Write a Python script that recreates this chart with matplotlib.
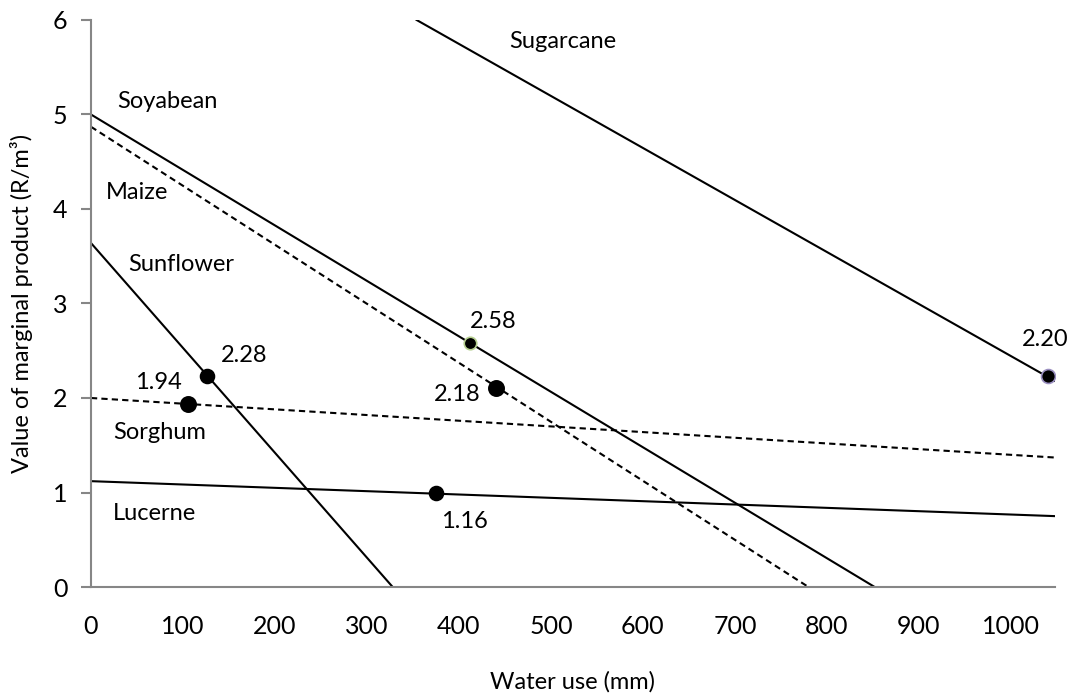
import matplotlib
matplotlib.use("Agg")
import matplotlib.pyplot as plt

plt.rcParams['font.family'] = ['Lato', 'DejaVu Sans']

# line end points (water use mm, value R/m3)
soy_x = [0, 852]
soy_y = [5.0, 0.0]
maize_x = [0, 780]
maize_y = [4.87, 0.0]
sunflower_x = [0, 328]
sunflower_y = [3.64, 0.0]
sugar_x = [354, 1048]
sugar_y = [6.0, 2.18]
sorghum_x = [0, 1048]
sorghum_y = [2.0, 1.37]
lucerne_x = [0, 1048]
lucerne_y = [1.12, 0.75]

# marked points and their labels
pt_x = [126, 106, 412, 440, 375, 1040]
pt_y = [2.23, 1.94, 2.58, 2.11, 1.0, 2.23]
pt_text = ["2.28", "1.94", "2.58", "2.18", "1.16", "2.20"]
pt_size = [10, 11, 9, 11, 10, 10]
pt_edge = ["black", "black", "#b5cf8f", "black", "black", "#9a8fc0"]
lab_x = [166, 73, 437, 398, 406, 1037]
lab_y = [2.45, 2.16, 2.81, 2.04, 0.69, 2.62]

crop_names = ["Sugarcane", "Soyabean", "Maize", "Sunflower", "Sorghum", "Lucerne"]
name_x = [513, 28, 16, 40, 24, 24]
name_y = [5.77, 5.14, 4.17, 3.41, 1.63, 0.78]

fig = plt.figure(figsize=(10.74, 6.96), dpi=100)
ax = fig.add_axes([0.0847, 0.1566, 0.8976, 0.8147])

lw = 1.5
ax.plot(soy_x, soy_y, color="black", lw=lw)
ax.plot(maize_x, maize_y, color="black", lw=lw, dashes=(3, 2))
ax.plot(sunflower_x, sunflower_y, color="black", lw=lw)
ax.plot(sugar_x, sugar_y, color="black", lw=lw)
ax.plot(sorghum_x, sorghum_y, color="black", lw=lw, dashes=(3, 2))
ax.plot(lucerne_x, lucerne_y, color="black", lw=lw)

for i in range(len(pt_x)):
    ax.plot(pt_x[i], pt_y[i], 'o', color="black", ms=pt_size[i],
            mec=pt_edge[i], mew=1.2, zorder=5)
    ax.text(lab_x[i], lab_y[i], pt_text[i], fontsize=17,
            ha="center", va="center")

for i in range(len(crop_names)):
    ax.text(name_x[i], name_y[i], crop_names[i], fontsize=17,
            ha="left" if i > 0 else "center", va="center")

ax.set_xlim(0, 1048)
ax.set_ylim(0, 6)
ax.set_xticks(range(0, 1001, 100))
ax.set_yticks(range(0, 7))

for s in ["top", "right"]:
    ax.spines[s].set_visible(False)
for s in ["left", "bottom"]:
    ax.spines[s].set_color("#868686")
    ax.spines[s].set_linewidth(1.5)

ax.tick_params(axis="x", length=0, pad=20, labelsize=18)
ax.tick_params(axis="y", length=7, width=1.5, color="#868686", pad=10,
               labelsize=18)

ax.set_xlabel("Water use (mm)", fontsize=17, labelpad=24)
ax.set_ylabel("Value of marginal product (R/m³)", fontsize=17, labelpad=14)

fig.savefig("out.png", dpi=100)
